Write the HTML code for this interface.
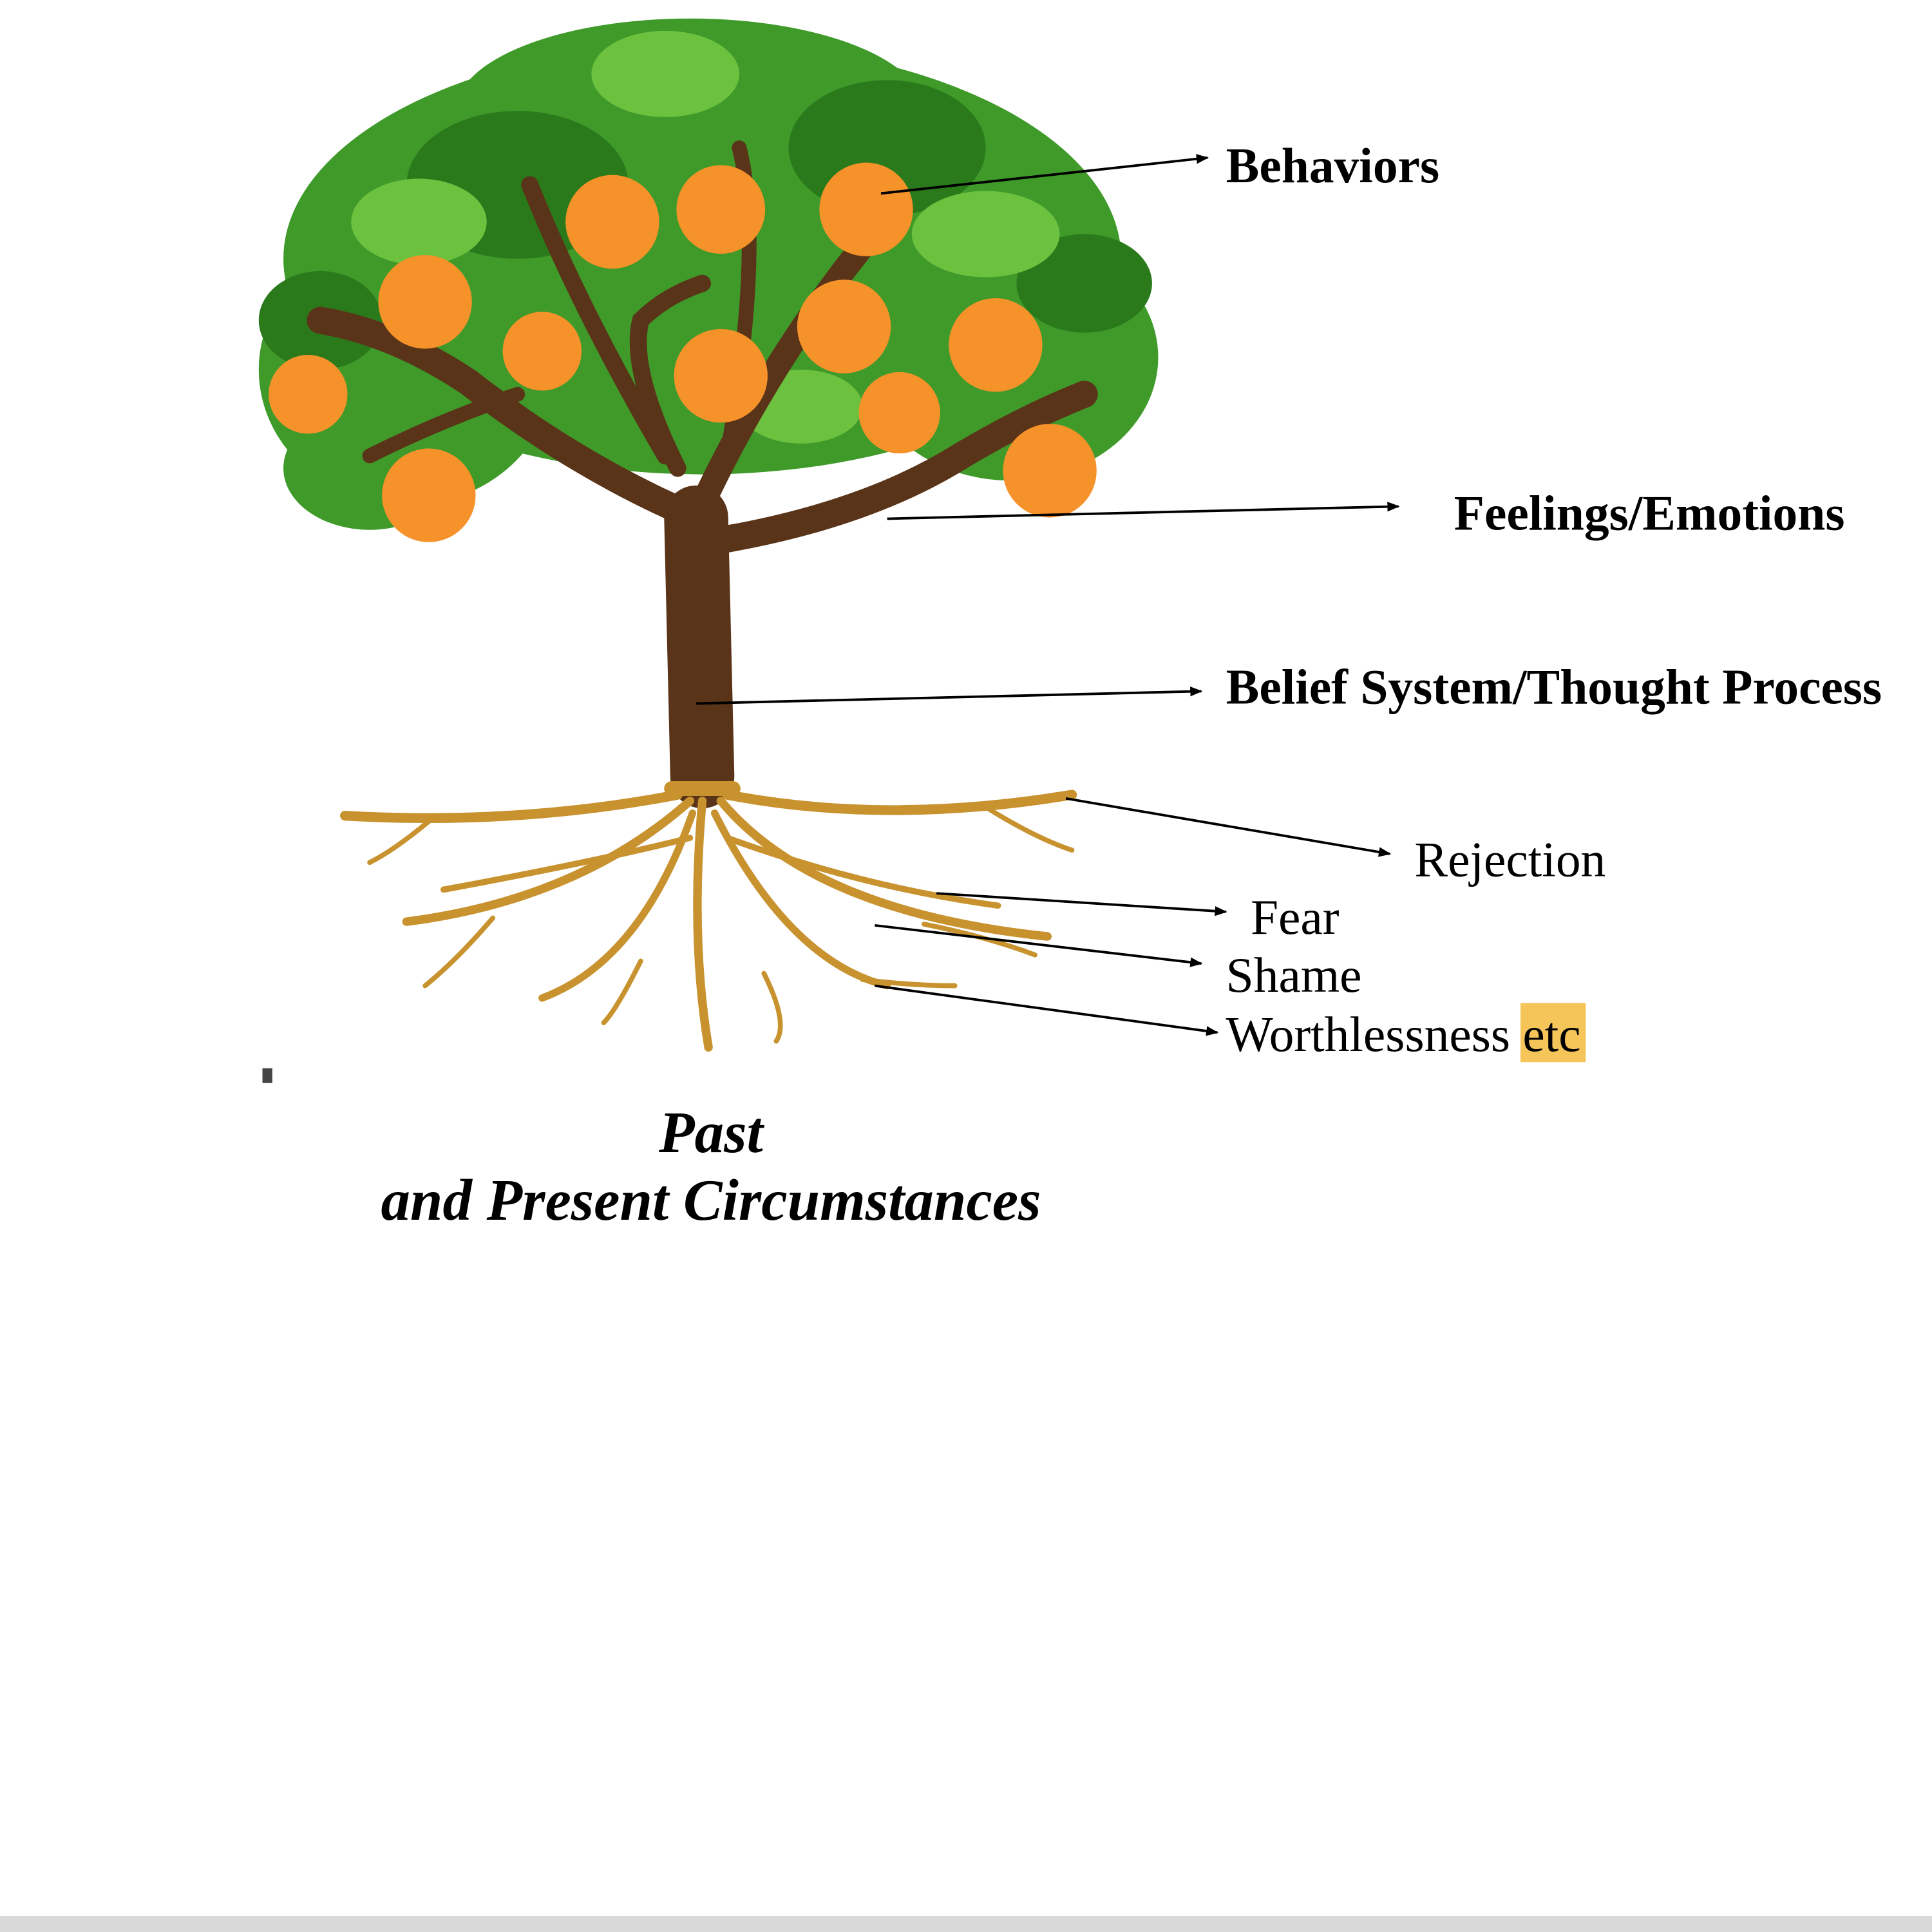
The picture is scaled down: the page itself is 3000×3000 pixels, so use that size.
<!DOCTYPE html>
<html><head><meta charset="utf-8"><style>
html,body{margin:0;padding:0;background:#fff;}
svg{display:block;}
</style></head><body>
<svg width="3000" height="3000" viewBox="0 0 1568 1568" xmlns="http://www.w3.org/2000/svg">
<rect width="1568" height="1568" fill="#fff"/>
<rect x="0" y="1555" width="1568" height="13" fill="#d9d9d9"/>
<g fill="#3f9a2a">
<ellipse cx="570" cy="210" rx="340" ry="175"/>
<ellipse cx="330" cy="300" rx="120" ry="110"/>
<ellipse cx="820" cy="290" rx="120" ry="100"/>
<ellipse cx="560" cy="90" rx="190" ry="75"/>
<ellipse cx="300" cy="380" rx="70" ry="50"/>
</g>
<g fill="#2a7a1c">
<ellipse cx="420" cy="150" rx="90" ry="60"/>
<ellipse cx="720" cy="120" rx="80" ry="55"/>
<ellipse cx="260" cy="260" rx="50" ry="40"/>
<ellipse cx="880" cy="230" rx="55" ry="40"/>
</g>
<g fill="#6cc23f">
<ellipse cx="540" cy="60" rx="60" ry="35"/>
<ellipse cx="340" cy="180" rx="55" ry="35"/>
<ellipse cx="800" cy="190" rx="60" ry="35"/>
<ellipse cx="650" cy="330" rx="50" ry="30"/>
</g>
<g fill="none" stroke="#5a3418" stroke-linecap="round">
<path d="M570 630 L565 420" stroke-width="52"/>
<path d="M565 420 Q470 380 380 310 Q320 270 260 260" stroke-width="22"/>
<path d="M565 420 Q620 300 700 200" stroke-width="20"/>
<path d="M575 440 Q700 420 780 370 Q830 340 880 320" stroke-width="22"/>
<path d="M550 380 Q510 300 520 260 Q540 240 570 230" stroke-width="14"/>
<path d="M540 370 Q470 250 430 150" stroke-width="14"/>
<path d="M590 370 Q620 200 600 120" stroke-width="12"/>
<path d="M420 320 Q360 340 300 370" stroke-width="12"/>
</g>
<g fill="#f6922a">
<circle cx="345" cy="245" r="38"/><circle cx="250" cy="320" r="32"/>
<circle cx="440" cy="285" r="32"/><circle cx="497" cy="180" r="38"/>
<circle cx="585" cy="170" r="36"/><circle cx="703" cy="170" r="38"/>
<circle cx="585" cy="305" r="38"/><circle cx="685" cy="265" r="38"/>
<circle cx="730" cy="335" r="33"/><circle cx="808" cy="280" r="38"/>
<circle cx="852" cy="382" r="38"/><circle cx="348" cy="402" r="38"/>
</g>
<g fill="none" stroke="#c8922e" stroke-linecap="round">
<path d="M545 640 L595 640" stroke-width="12"/>
<path d="M550 645 Q420 670 280 662" stroke-width="8"/>
<path d="M590 645 Q720 670 870 645" stroke-width="8"/>
<path d="M560 650 Q470 730 330 748" stroke-width="7"/>
<path d="M585 650 Q660 740 850 760" stroke-width="7"/>
<path d="M570 650 Q560 760 575 850" stroke-width="7"/>
<path d="M562 660 Q520 780 440 810" stroke-width="6"/>
<path d="M580 660 Q640 780 720 800" stroke-width="6"/>
<path d="M560 680 Q480 700 360 722" stroke-width="5"/>
<path d="M590 680 Q700 720 810 735" stroke-width="5"/>
<path d="M350 665 Q320 690 300 700" stroke-width="4"/>
<path d="M800 655 Q840 680 870 690" stroke-width="4"/>
<path d="M400 745 Q370 780 345 800" stroke-width="4"/>
<path d="M520 780 Q500 820 490 830" stroke-width="4"/>
<path d="M620 790 Q640 830 630 845" stroke-width="4"/>
<path d="M700 795 Q740 800 775 800" stroke-width="4"/>
<path d="M750 750 Q800 760 840 775" stroke-width="4"/>
</g>
<defs><marker id="a" markerWidth="10" markerHeight="8" refX="9" refY="4" orient="auto" markerUnits="userSpaceOnUse"><path d="M0 0 L10 4 L0 8 z" fill="#000"/></marker></defs>
<g stroke="#000" stroke-width="2" marker-end="url(#a)">
<line x1="715" y1="157" x2="980" y2="128"/>
<line x1="720" y1="421" x2="1135" y2="411"/>
<line x1="565" y1="571" x2="975" y2="561"/>
<line x1="865" y1="648" x2="1128" y2="693"/>
<line x1="760" y1="725" x2="995" y2="740"/>
<line x1="710" y1="751" x2="975" y2="782"/>
<line x1="710" y1="800" x2="988" y2="838"/>
</g>
<rect x="1234" y="814" width="53" height="48" fill="#f5c55a"/>
<rect x="213" y="867" width="8" height="12" fill="#444"/>
<g font-family="'Liberation Serif', serif" font-size="40.5" fill="#000">
<text x="995" y="148" font-weight="bold">Behaviors</text>
<text x="1180" y="430" font-weight="bold">Feelings/Emotions</text>
<text x="995" y="571" font-weight="bold">Belief System/Thought Process</text>
<text x="1148" y="711">Rejection</text>
<text x="1015" y="758">Fear</text>
<text x="995" y="805">Shame</text>
<text x="995" y="853">Worthlessness <tspan>etc</tspan></text>
<g font-weight="bold" font-style="italic" font-size="47.5" text-anchor="middle">
<text x="577" y="935">Past</text>
<text x="577" y="990">and Present Circumstances</text>
</g>
</g>
</svg>
</body></html>
